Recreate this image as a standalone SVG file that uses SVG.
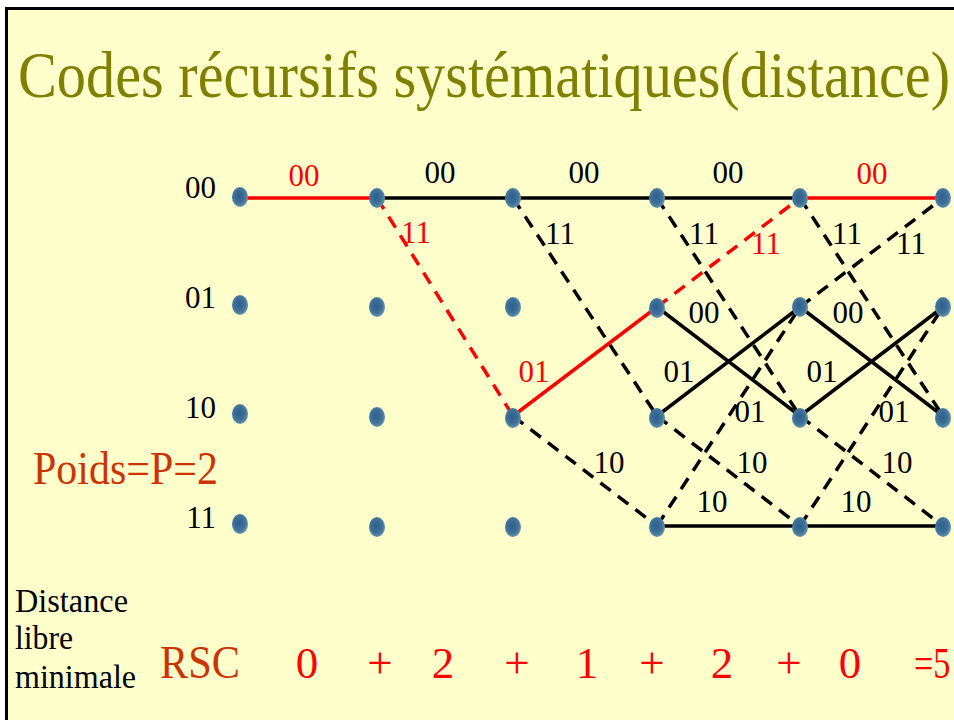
<svg xmlns="http://www.w3.org/2000/svg" width="954" height="720" viewBox="0 0 954 720" font-family="'Liberation Serif', 'DejaVu Serif', 'Times New Roman', serif">
<defs>
<radialGradient id="dotg" cx="45%" cy="45%" r="60%">
<stop offset="0" stop-color="#2E5E8C"/>
<stop offset="0.6" stop-color="#3F7199"/>
<stop offset="1" stop-color="#6E9DB2"/>
</radialGradient>
<style>
text{font-family:'Liberation Serif','DejaVu Serif','Times New Roman',serif}
.lbl{font-size:31px;text-anchor:middle;fill:#000}
.red{fill:#FF0000}
.row{font-size:31px;text-anchor:end;fill:#000}
.e{fill:none;stroke:#000;stroke-width:3.5}
.d{stroke-dasharray:13,9}
.r{stroke:#FF0000}
.dot{fill:url(#dotg)}
.bot{font-size:45px;fill:#FF0000;text-anchor:middle}
</style>
</defs>
<rect x="0" y="0" width="954" height="720" fill="#FFFFFF"/>
<rect x="6" y="8" width="948" height="712" fill="#FFFFCC"/>
<path d="M6.5 720 V8.5 H954" fill="none" stroke="#000" stroke-width="3"/>
<text transform="translate(18,97) scale(0.883,1)" x="0" y="0" font-size="66" fill="#808000">Codes récursifs systématiques(distance)</text>

<g id="connectors">
<line class="e" x1="513" y1="198" x2="657" y2="198"/>
<line class="e" x1="377" y1="198" x2="513" y2="198"/>
<line class="e" x1="657" y1="198" x2="800" y2="198"/>
<line class="e d" x1="513" y1="198" x2="657" y2="416"/>
<line class="e d" x1="657" y1="198" x2="800" y2="416"/>
<line class="e d" x1="800" y1="198" x2="943" y2="416"/>
<line class="e d" x1="800" y1="307" x2="943" y2="198"/>
<line class="e" x1="657" y1="307" x2="800" y2="416"/>
<line class="e" x1="800" y1="307" x2="943" y2="416"/>
<line class="e" x1="657" y1="416" x2="800" y2="307"/>
<line class="e" x1="800" y1="416" x2="943" y2="307"/>
<line class="e d" x1="513" y1="416" x2="657" y2="526"/>
<line class="e d" x1="657" y1="416" x2="800" y2="526"/>
<line class="e d" x1="800" y1="416" x2="943" y2="526"/>
<line class="e d" x1="657" y1="526" x2="800" y2="307"/>
<line class="e d" x1="800" y1="526" x2="943" y2="307"/>
<line class="e" x1="657" y1="526" x2="800" y2="526"/>
<line class="e" x1="800" y1="526" x2="943" y2="526"/>
<line class="e r" x1="240" y1="198" x2="377" y2="198"/>
<line class="e r d" x1="377" y1="198" x2="513" y2="416"/>
<line class="e r" x1="513" y1="416" x2="657" y2="307"/>
<line class="e r d" x1="657" y1="307" x2="800" y2="198"/>
<line class="e r" x1="800" y1="198" x2="943" y2="198"/>
</g>

<g id="nodes">
<g id="n00"><ellipse class="dot" cx="240" cy="197" rx="8" ry="10"/><ellipse class="dot" cx="377" cy="198" rx="8" ry="10"/><ellipse class="dot" cx="513" cy="198" rx="8" ry="10"/><ellipse class="dot" cx="657" cy="198" rx="8" ry="10"/><ellipse class="dot" cx="800" cy="198" rx="8" ry="10"/><ellipse class="dot" cx="943" cy="198" rx="8" ry="10"/></g>
<g id="n01"><ellipse class="dot" cx="240" cy="305" rx="8" ry="10"/><ellipse class="dot" cx="377" cy="307" rx="8" ry="10"/><ellipse class="dot" cx="513" cy="307" rx="8" ry="10"/><ellipse class="dot" cx="657" cy="308" rx="8" ry="10"/><ellipse class="dot" cx="800" cy="307" rx="8" ry="10"/><ellipse class="dot" cx="943" cy="307" rx="8" ry="10"/></g>
<g id="n10"><ellipse class="dot" cx="240" cy="414" rx="8" ry="10"/><ellipse class="dot" cx="377" cy="417" rx="8" ry="10"/><ellipse class="dot" cx="513" cy="418" rx="8" ry="10"/><ellipse class="dot" cx="657" cy="418" rx="8" ry="10"/><ellipse class="dot" cx="800" cy="418" rx="8" ry="10"/><ellipse class="dot" cx="943" cy="418" rx="8" ry="10"/></g>
<g id="n11"><ellipse class="dot" cx="240" cy="524" rx="8" ry="10"/><ellipse class="dot" cx="377" cy="527" rx="8" ry="10"/><ellipse class="dot" cx="513" cy="527" rx="8" ry="10"/><ellipse class="dot" cx="657" cy="527" rx="8" ry="10"/><ellipse class="dot" cx="800" cy="527" rx="8" ry="10"/><ellipse class="dot" cx="943" cy="527" rx="8" ry="10"/></g>
</g>

<g id="row-labels">
<text class="row" x="216" y="198">00</text>
<text class="row" x="216" y="308">01</text>
<text class="row" x="216" y="418">10</text>
<text class="row" x="216" y="528">11</text>
</g>

<g id="edge-labels">
<text class="lbl red" x="304" y="186">00</text>
<text class="lbl" x="440" y="183">00</text>
<text class="lbl" x="584" y="183">00</text>
<text class="lbl" x="728" y="183">00</text>
<text class="lbl red" x="872" y="184">00</text>
<text class="lbl red" x="416" y="243">11</text>
<text class="lbl" x="560" y="244">11</text>
<text class="lbl" x="704" y="244">11</text>
<text class="lbl red" x="766" y="254" font-size="33">11</text>
<text class="lbl" x="847" y="244">11</text>
<text class="lbl" x="911" y="254">11</text>
<text class="lbl" x="704" y="323">00</text>
<text class="lbl" x="848" y="323">00</text>
<text class="lbl red" x="534" y="382">01</text>
<text class="lbl" x="679" y="382">01</text>
<text class="lbl" x="822" y="382">01</text>
<text class="lbl" x="750" y="422">01</text>
<text class="lbl" x="894" y="422">01</text>
<text class="lbl" x="609" y="473">10</text>
<text class="lbl" x="752" y="473">10</text>
<text class="lbl" x="897" y="473">10</text>
<text class="lbl" x="712" y="512">10</text>
<text class="lbl" x="856" y="512">10</text>
</g>

<text x="33" y="484" font-size="46" fill="#CC3300" textLength="185" lengthAdjust="spacingAndGlyphs">Poids=P=2</text>
<g font-size="33" fill="#000">
<text x="15" y="612" textLength="113" lengthAdjust="spacingAndGlyphs">Distance</text>
<text x="15" y="649" textLength="58" lengthAdjust="spacingAndGlyphs">libre</text>
<text x="15" y="688" textLength="121" lengthAdjust="spacingAndGlyphs">minimale</text>
</g>
<text x="160" y="678" font-size="46" fill="#CC3300" textLength="80" lengthAdjust="spacingAndGlyphs">RSC</text>
<g>
<text class="bot" x="307" y="678">0</text>
<text class="bot" x="380" y="678">+</text>
<text class="bot" x="443" y="678">2</text>
<text class="bot" x="517" y="678">+</text>
<text class="bot" x="587" y="678">1</text>
<text class="bot" x="652" y="678">+</text>
<text class="bot" x="722" y="678">2</text>
<text class="bot" x="789" y="678">+</text>
<text class="bot" x="850" y="678">0</text>
<text transform="translate(914,678) scale(0.76,1)" x="0" y="0" font-size="45" fill="#FF0000">=5</text>
</g>
</svg>
